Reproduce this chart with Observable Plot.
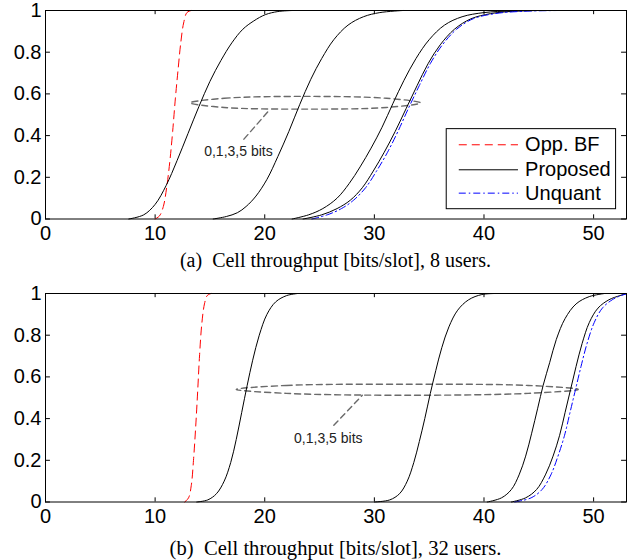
<!DOCTYPE html>
<html><head><meta charset="utf-8">
<script src="https://cdn.jsdelivr.net/npm/d3@7"></script>
<script src="https://cdn.jsdelivr.net/npm/@observablehq/plot@0.6"></script>
<style>
body{margin:0;background:#fff;width:629px;overflow:hidden;}
svg{display:block}
.cap{font-family:"Liberation Serif","Times New Roman",serif;font-size:20px;line-height:20px;text-align:center;white-space:pre;color:#000;padding-left:45px;padding-right:3px;box-sizing:border-box;width:629px;}
</style></head>
<body>
<div id="pa"></div>
<div class="cap" style="height:30px;">(a)  Cell throughput [bits/slot], 8 users.</div>
<div id="pb"></div>
<div class="cap" style="height:28px;padding-top:6px;font-size:20.6px;">(b)  Cell throughput [bits/slot], 32 users.</div>
<script>
// ---- tick values
const xTicks = [0, 10, 20, 30, 40, 50];
const yTicks = [0, 0.2, 0.4, 0.6, 0.8, 1];
const legendLabels = ["Opp. BF", "Proposed", "Unquant"];
const annotationLabel = "0,1,3,5 bits";

// ---- panel (a): 8 users, [throughput, CDF]
const oppA = [[10.0,0],[10.4,0.015],[10.75,0.06],[11.05,0.15],[11.35,0.28],[11.6,0.42],[11.85,0.58],[12.1,0.72],[12.35,0.85],[12.6,0.94],[12.9,0.99],[13.3,1]];
const prop0A = [[7.6,0],[8.96,0.02],[10.0,0.07],[11.0,0.16],[12.0,0.28],[13.0,0.41],[14.0,0.54],[15.0,0.66],[16.0,0.76],[17.0,0.845],[18.0,0.91],[19.0,0.95],[20.05,0.98],[21.2,0.995],[22.5,1]];
const prop1A = [[15.3,0],[16.5,0.012],[17.5,0.03],[18.3,0.06],[19.2,0.11],[20.2,0.19],[21.2,0.30],[22.2,0.42],[23.2,0.55],[24.2,0.67],[25.2,0.77],[26.3,0.86],[27.6,0.93],[29.0,0.97],[30.5,0.99],[32.6,1]];
const prop3A = [[22.5,0],[24.0,0.02],[25.3,0.05],[26.6,0.10],[27.7,0.17],[28.7,0.25],[29.7,0.34],[30.7,0.44],[31.7,0.555],[32.7,0.665],[33.8,0.77],[35.0,0.86],[36.4,0.93],[38.0,0.97],[40,0.99],[42.5,0.998],[44.5,1]];
const prop5A = [[23.5,0],[25.2,0.02],[26.6,0.05],[27.8,0.09],[28.9,0.15],[29.9,0.23],[30.9,0.32],[31.9,0.42],[32.9,0.53],[33.9,0.64],[34.9,0.745],[36.0,0.835],[37.3,0.91],[38.8,0.96],[40.6,0.985],[42.6,0.996],[45,1]];
const unqA = [[24.3,0],[25.7,0.02],[27.0,0.05],[28.1,0.09],[29.2,0.15],[30.2,0.23],[31.2,0.32],[32.15,0.42],[33.1,0.53],[34.1,0.64],[35.1,0.745],[36.2,0.835],[37.5,0.91],[39.0,0.96],[41.0,0.985],[43.5,0.996],[46.8,1]];
const ellipseA = [[13.2,0.557],[16.3,0.579],[23.7,0.588],[31.1,0.579],[34.2,0.557],[31.1,0.535],[23.7,0.527],[16.3,0.535]];
const leaderA = [[18.1,0.383],[20.5,0.527]];
const labelPosA = [17.6,0.324];

// ---- panel (b): 32 users
const oppB = [[12.7,0],[13.05,0.02],[13.3,0.08],[13.5,0.2],[13.7,0.36],[13.88,0.53],[14.05,0.7],[14.25,0.85],[14.5,0.95],[14.75,0.99],[15.1,1]];
const prop0B = [[13.8,0],[14.8,0.01],[15.6,0.04],[16.3,0.10],[16.9,0.19],[17.4,0.30],[17.9,0.43],[18.4,0.56],[18.9,0.68],[19.5,0.80],[20.2,0.90],[21.0,0.96],[22.0,0.99],[23.0,1]];
const prop1B = [[30.0,0],[31.4,0.01],[32.3,0.04],[33.0,0.10],[33.6,0.19],[34.1,0.29],[34.6,0.40],[35.1,0.52],[35.6,0.63],[36.15,0.74],[36.8,0.84],[37.6,0.92],[38.6,0.97],[39.8,0.995],[41,1]];
const prop3B = [[40.3,0],[41.6,0.02],[42.5,0.06],[43.2,0.13],[43.8,0.22],[44.35,0.33],[44.9,0.45],[45.4,0.56],[46.0,0.67],[46.6,0.78],[47.4,0.88],[48.4,0.95],[49.6,0.985],[51,1]];
const prop5B = [[42.5,0],[43.8,0.02],[44.8,0.06],[45.6,0.13],[46.3,0.22],[46.9,0.32],[47.4,0.43],[47.9,0.54],[48.4,0.65],[48.95,0.76],[49.6,0.86],[50.4,0.93],[51.4,0.97],[52.4,0.99],[53,1]];
const unqB = [[42.8,0],[44.3,0.02],[45.3,0.06],[46.1,0.13],[46.75,0.22],[47.35,0.32],[47.85,0.43],[48.35,0.54],[48.85,0.65],[49.4,0.76],[50.05,0.86],[50.8,0.93],[51.7,0.97],[52.5,0.99],[53,0.998]];
const ellipseB = [[17.4,0.54],[21.97,0.559],[33,0.565],[44.03,0.559],[48.6,0.54],[44.03,0.521],[33,0.512],[21.97,0.521]];
const leaderB = [[26.3,0.368],[28.9,0.512]];
const labelPosB = [25.8,0.306];

const FONT = '"Liberation Sans", Arial, Helvetica, sans-serif';
const X = d => d[0], Y = d => d[1];

function panel({opp, props, unq, ellipse, leader, labelPos, legend, marginTop, marginBottom}) {
  const marks = [
    // inward ticks on all four sides
    Plot.ruleX(xTicks, {y1: 0, y2: 0.02, stroke: "black"}),
    Plot.ruleX(xTicks, {y1: 0.98, y2: 1, stroke: "black"}),
    Plot.ruleY(yTicks, {x1: 0, x2: 0.45, stroke: "black"}),
    Plot.ruleY(yTicks, {x1: 52.55, x2: 53, stroke: "black"}),
    // annotation
    Plot.line(ellipse, {x: X, y: Y, curve: "catmull-rom-closed", stroke: "#6a6a6a", strokeWidth: 1.4, strokeDasharray: "6,4"}),
    Plot.line(leader, {x: X, y: Y, stroke: "#6a6a6a", strokeWidth: 1.4, strokeDasharray: "6,4"}),
    Plot.text([annotationLabel], {x: labelPos[0], y: labelPos[1], text: d => d, fontSize: 14, fill: "#222", fontFamily: FONT}),
    // curves
    Plot.line(opp, {x: X, y: Y, stroke: "#ff0000", strokeWidth: 1, strokeDasharray: "8,5", curve: "catmull-rom"}),
    ...props.map(p => Plot.line(p, {x: X, y: Y, stroke: "black", strokeWidth: 1, curve: "catmull-rom"})),
    Plot.line(unq, {x: X, y: Y, stroke: "#0000ff", strokeWidth: 1, strokeDasharray: "7,3,1.5,3", curve: "catmull-rom"}),
  ];
  if (legend) {
    const ys = [0.356, 0.236, 0.124];
    const styles = [
      {stroke: "#ff0000", strokeDasharray: "8,5"},
      {stroke: "black"},
      {stroke: "#0000ff", strokeDasharray: "7,3,1.5,3"}
    ];
    marks.push(Plot.rect([0], {x1: 36.6, x2: 52.05, y1: 0.047, y2: 0.431, fill: "white", stroke: "black", strokeWidth: 1}));
    legendLabels.forEach((lab, i) => {
      marks.push(Plot.link([0], {x1: 37.7, x2: 43.1, y1: ys[i], y2: ys[i], strokeWidth: 1, ...styles[i]}));
      marks.push(Plot.text([lab], {x: 43.75, y: ys[i], text: d => d, textAnchor: "start", fontSize: 20, fill: "black", fontFamily: FONT}));
    });
  }
  marks.push(Plot.frame({stroke: "black", strokeWidth: 1}));
  return Plot.plot({
    width: 629,
    height: marginTop + 208.5 + marginBottom,
    marginLeft: 45, marginRight: 3, marginTop, marginBottom,
    style: {fontFamily: FONT, fontSize: "20px", color: "black", background: "white"},
    x: {domain: [0, 53], ticks: xTicks, tickSize: 0, tickPadding: 7, label: null},
    y: {domain: [0, 1], ticks: yTicks, tickSize: 0, tickPadding: 4, label: null, tickFormat: d => String(d)},
    marks
  });
}

document.getElementById("pa").appendChild(panel({
  opp: oppA, props: [prop0A, prop1A, prop3A, prop5A], unq: unqA,
  ellipse: ellipseA, leader: leaderA, labelPos: labelPosA, legend: true,
  marginTop: 10, marginBottom: 31.5
}));
document.getElementById("pb").appendChild(panel({
  opp: oppB, props: [prop0B, prop1B, prop3B, prop5B], unq: unqB,
  ellipse: ellipseB, leader: leaderB, labelPos: labelPosB, legend: false,
  marginTop: 13, marginBottom: 30.5
}));
</script>
</body></html>
